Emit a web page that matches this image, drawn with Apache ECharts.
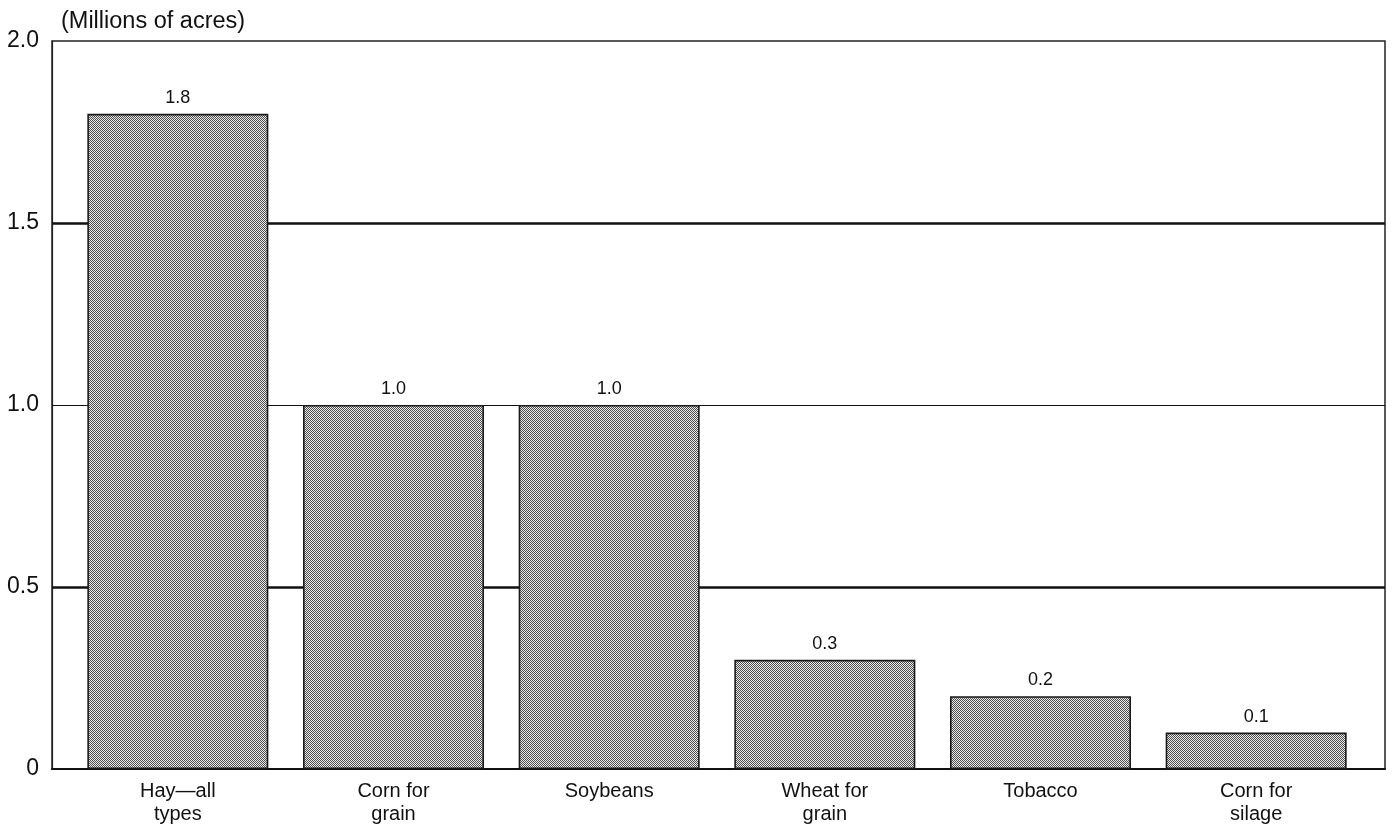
<!DOCTYPE html>
<html>
<head>
<meta charset="utf-8">
<script src="https://cdn.jsdelivr.net/npm/echarts@6/dist/echarts.min.js"></script>
<style>
html,body{margin:0;padding:0;background:#fff;}
#chart{width:1392px;height:830px;}
</style>
</head>
<body>
<div id="chart"></div>
<script>
const categories = ['Hay\u2014all\ntypes', 'Corn for\ngrain', 'Soybeans', 'Wheat for\ngrain', 'Tobacco', 'Corn for\nsilage'];
const values = [1.8, 1.0, 1.0, 0.3, 0.2, 0.1];
const yTicks = [0, 0.5, 1.0, 1.5, 2.0];
const gridValues = [0.5, 1.0, 1.5];
const unitLabel = '(Millions of acres)';

const pat = document.createElement('canvas');
pat.width = 2; pat.height = 2;
const pc = pat.getContext('2d');
pc.fillStyle = '#e8e8e8'; pc.fillRect(0, 0, 2, 2);
pc.fillStyle = '#505050'; pc.fillRect(0, 0, 1, 1); pc.fillRect(1, 1, 1, 1);

const font = 'Liberation Sans, Arial, Helvetica, sans-serif';
const chart = echarts.init(document.getElementById('chart'));
chart.setOption({
  animation: false,
  backgroundColor: '#fff',
  title: {
    text: unitLabel, left: 56, top: 5,
    textStyle: { fontFamily: font, fontSize: 23.5, fontWeight: 'normal', color: '#111' }
  },
  grid: [
    { left: 52, right: 7, top: 41, bottom: 61, show: true, borderColor: '#222', borderWidth: 1.5, containLabel: false },
    { left: 70, right: 28, top: 41, bottom: 61, containLabel: false }
  ],
  xAxis: [
    { gridIndex: 0, type: 'value', min: 0, max: 1, axisLine: { show: true, onZero: false, lineStyle: { color: '#111', width: 2 } },
      axisTick: { show: false }, axisLabel: { show: false }, splitLine: { show: false } },
    { gridIndex: 1, type: 'category', data: categories,
      axisLine: { show: false }, axisTick: { show: false },
      axisLabel: { fontFamily: font, fontSize: 20, color: '#111', lineHeight: 23, margin: 11, interval: 0 } }
  ],
  yAxis: [
    { gridIndex: 0, type: 'value', min: yTicks[0], max: yTicks[yTicks.length - 1], interval: yTicks[1] - yTicks[0],
      axisLine: { show: true, lineStyle: { color: '#222', width: 1.2 } }, axisTick: { show: false },
      axisLabel: { fontFamily: font, fontSize: 23, color: '#111', margin: 13,
        formatter: v => v === 0 ? '0' : v.toFixed(1) },
      splitLine: { show: false } },
    { gridIndex: 1, type: 'value', min: yTicks[0], max: yTicks[yTicks.length - 1], show: false, splitLine: { show: false } }
  ],
  series: [
    {
      type: 'line', xAxisIndex: 0, yAxisIndex: 0, data: [], silent: true,
      markLine: {
        silent: true, symbol: 'none', label: { show: false }, animation: false,
        data: gridValues.map(v => ({ yAxis: v, lineStyle: { color: '#111', type: 'solid', width: v === 1.0 ? 1.2 : 2.6 } }))
      }
    },
    {
      type: 'bar', xAxisIndex: 1, yAxisIndex: 1, data: values, barWidth: 181, z: 5,
      itemStyle: { color: { image: pat, repeat: 'repeat' }, borderColor: '#1a1a1a', borderWidth: 1.6 },
      label: { show: true, position: 'top', distance: 7, fontFamily: font, fontSize: 18, color: '#111',
        formatter: p => p.value.toFixed(1) }
    }
  ]
});
</script>
</body>
</html>
